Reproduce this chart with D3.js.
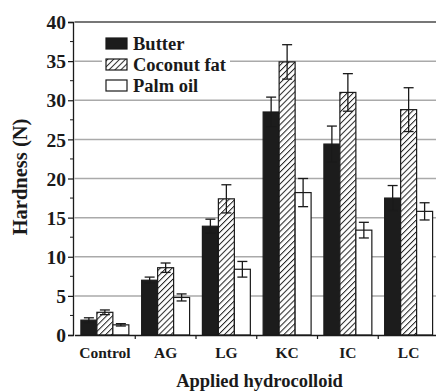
<!DOCTYPE html>
<html><head><meta charset="utf-8">
<script src="https://cdn.jsdelivr.net/npm/d3@7"></script>
<style>
html,body{margin:0;padding:0;background:#fff;}
svg{display:block;}
svg text{font-family:"Liberation Serif" !important;font-weight:bold !important;}
</style></head>
<body>
<script>
const categories = ["Control","AG","LG","KC","IC","LC"];
const seriesNames = ["Butter","Coconut fat","Palm oil"];
const butter = [1.9, 7.0, 13.9, 28.5, 24.4, 17.5];
const coconut = [2.9, 8.6, 17.4, 34.9, 31.0, 28.8];
const palm = [1.3, 4.8, 8.4, 18.2, 13.4, 15.8];
const butterErr = [0.3, 0.4, 0.9, 1.9, 2.3, 1.6];
const coconutErr = [0.3, 0.6, 1.8, 2.2, 2.4, 2.8];
const palmErr = [0.15, 0.45, 1.0, 1.8, 1.0, 1.1];
const yTicks = [0,5,10,15,20,25,30,35,40];

const FONT = "Liberation Serif";
const W = 436, H = 391;
const svg = d3.select("body").append("svg").attr("width", W).attr("height", H);

function serif(sel){ return sel.style("font-family", FONT, "important").style("font-weight", "bold", "important"); }

const defs = svg.append("defs");
const pat = defs.append("pattern").attr("id","hatch").attr("patternUnits","userSpaceOnUse")
  .attr("width",4.2).attr("height",4.2).attr("patternTransform","rotate(45)");
pat.append("rect").attr("width",4.2).attr("height",4.2).attr("fill","#fff");
pat.append("line").attr("x1",0).attr("y1",0).attr("x2",0).attr("y2",4.2)
  .attr("stroke","#222").attr("stroke-width",2);

const x0 = 74.5, x1 = 439, yTop = 22, yBot = 335;
const y = d3.scaleLinear().domain([0,40]).range([yBot, yTop]);
const x = d3.scaleBand().domain(categories).range([x0, x1]).padding(0);
const xs = d3.scaleBand().domain(seriesNames).range([6.4, x.bandwidth()-6.4]).padding(0);

// gridlines
const grid = svg.append("g");
yTicks.filter(t => t > 0).forEach(t => {
  grid.append("line").attr("x1", x0).attr("x2", W).attr("y1", y(t)).attr("y2", y(t))
    .attr("stroke", t === 40 ? "#777" : "#aaa").attr("stroke-width", t === 40 ? 2 : 1.5);
});

// bars
const data = categories.map((c,i) => [
  {cat:c, s:"Butter", v:butter[i], e:butterErr[i], fill:"#1c1c1c"},
  {cat:c, s:"Coconut fat", v:coconut[i], e:coconutErr[i], fill:"url(#hatch)"},
  {cat:c, s:"Palm oil", v:palm[i], e:palmErr[i], fill:"#fff"}
]).flat();

const bars = svg.append("g");
bars.selectAll("rect").data(data).join("rect")
  .attr("x", d => x(d.cat) + xs(d.s))
  .attr("width", xs.bandwidth())
  .attr("y", d => y(d.v))
  .attr("height", d => y(0) - y(d.v))
  .attr("fill", d => d.fill)
  .attr("stroke", "#1a1a1a").attr("stroke-width", 1.2);

// error bars
const eb = svg.append("g").attr("stroke","#1a1a1a").attr("stroke-width",1.3);
data.forEach(d => {
  const cx = x(d.cat) + xs(d.s) + xs.bandwidth()/2;
  eb.append("line").attr("x1",cx).attr("x2",cx).attr("y1",y(d.v+d.e)).attr("y2",y(d.v-d.e));
  eb.append("line").attr("x1",cx-5).attr("x2",cx+5).attr("y1",y(d.v+d.e)).attr("y2",y(d.v+d.e));
  eb.append("line").attr("x1",cx-5).attr("x2",cx+5).attr("y1",y(d.v-d.e)).attr("y2",y(d.v-d.e));
});

// y axis
const yAxis = svg.append("g").attr("transform", `translate(${x0-1.5},0)`)
  .call(d3.axisLeft(y).tickValues(yTicks).tickSize(5).tickPadding(2).tickFormat(d3.format("d")));
yAxis.attr("font-family", null);
yAxis.select(".domain").attr("stroke","#1a1a1a").attr("stroke-width",1.3);
yAxis.selectAll(".tick line").attr("stroke","#1a1a1a").attr("stroke-width",1.2);
serif(yAxis.selectAll("text")).attr("font-size",19.5).attr("fill","#1a1a1a").attr("dy","0.34em");
yAxis.append("g").selectAll("line").data(d3.range(2.5,40,5)).join("line")
  .attr("x1",-3).attr("x2",0).attr("y1",d=>y(d)).attr("y2",d=>y(d))
  .attr("stroke","#1a1a1a").attr("stroke-width",1);

// x axis
const xAxis = svg.append("g").attr("transform", `translate(0,${yBot})`)
  .call(d3.axisBottom(x).tickSize(0).tickPadding(12));
xAxis.attr("font-family", null);
xAxis.select(".domain").attr("stroke","#1a1a1a").attr("stroke-width",1.5);
serif(xAxis.selectAll("text")).attr("font-size",15.5).attr("fill","#1a1a1a");
xAxis.append("g").selectAll("line").data(categories.slice(1)).join("line")
  .attr("x1",d=>x(d)).attr("x2",d=>x(d)).attr("y1",0).attr("y2",4)
  .attr("stroke","#1a1a1a").attr("stroke-width",1.2);

// legend
const lg = svg.append("g");
lg.append("rect").attr("x",102).attr("y",33).attr("width",128).attr("height",64).attr("fill","#fff");
const legItems = [
  {s:"Butter", fill:"#1c1c1c"},
  {s:"Coconut fat", fill:"url(#hatch)"},
  {s:"Palm oil", fill:"#fff"}
];
legItems.forEach((d,i) => {
  const cy = 43.5 + i*21;
  lg.append("rect").attr("x",106).attr("y",cy-5.5).attr("width",21).attr("height",11)
    .attr("fill",d.fill).attr("stroke","#1a1a1a").attr("stroke-width",1.2);
  serif(lg.append("text")).attr("x",133).attr("y",cy+6.5)
    .attr("font-size",18.5).attr("fill","#1a1a1a").text(d.s);
});

// axis titles
serif(svg.append("text")).attr("transform","translate(27,177) rotate(-90)")
  .attr("fill","#1a1a1a").attr("text-anchor","middle").attr("font-size",20.5).text("Hardness (N)");
serif(svg.append("text")).attr("x",259.5).attr("y",387).attr("text-anchor","middle")
  .attr("fill","#1a1a1a").attr("font-size",18.5).text("Applied hydrocolloid");
</script>
</body></html>
